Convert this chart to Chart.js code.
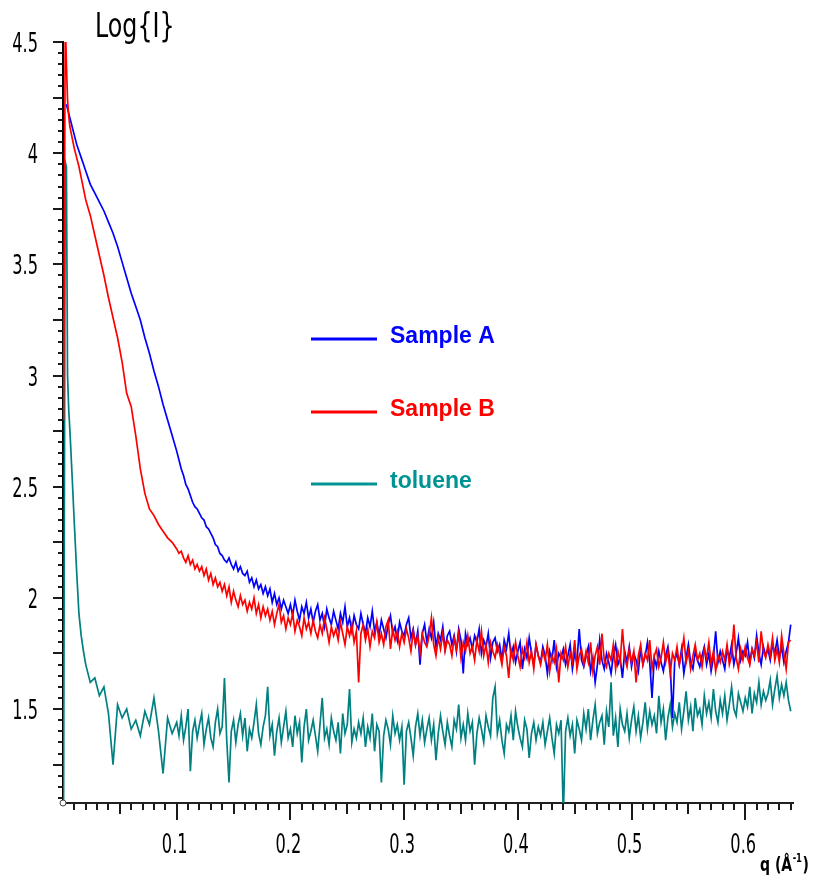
<!DOCTYPE html>
<html>
<head>
<meta charset="utf-8">
<title>Log{I} vs q</title>
<script src="https://cdn.jsdelivr.net/npm/chart.js@4.4.1/dist/chart.umd.min.js"></script>
<style>
  html, body { margin: 0; padding: 0; background: #fff; }
  #chart { display: block; }
</style>
</head>
<body>
<canvas id="chart" width="816" height="879"></canvas>
<script>
// values (Log{I} against q)

const qValues = [
  0.0005, 0.002, 0.003, 0.004, 0.005, 0.006, 0.008, 0.010, 0.012, 0.014, 0.016, 0.018, 0.020,
  0.024, 0.028, 0.032, 0.036, 0.040, 0.044, 0.048, 0.052, 0.056, 0.060,
  0.064, 0.068, 0.072, 0.076, 0.080, 0.084, 0.088, 0.092, 0.096,
  0.100, 0.102, 0.104, 0.106, 0.108, 0.110, 0.112, 0.114, 0.116, 0.118,
  0.120, 0.122, 0.124, 0.126, 0.128, 0.130, 0.132, 0.134, 0.136, 0.138,
  0.140, 0.142, 0.144, 0.146, 0.148, 0.150, 0.152, 0.154, 0.156, 0.158,
  0.160, 0.162, 0.164, 0.166, 0.168, 0.170, 0.172, 0.174, 0.176, 0.178,
  0.180, 0.182, 0.184, 0.186, 0.188, 0.190, 0.192, 0.194, 0.196, 0.198,
  0.200, 0.202, 0.204, 0.206, 0.208, 0.210, 0.212, 0.214, 0.216, 0.218,
  0.220, 0.222, 0.224, 0.226, 0.228, 0.230, 0.232, 0.234, 0.236, 0.238,
  0.240, 0.242, 0.244, 0.246, 0.248, 0.250, 0.252, 0.254, 0.256, 0.258,
  0.260, 0.262, 0.264, 0.266, 0.268, 0.270, 0.272, 0.274, 0.276, 0.278,
  0.280, 0.282, 0.284, 0.286, 0.288, 0.290, 0.292, 0.294, 0.296, 0.298,
  0.300, 0.302, 0.304, 0.306, 0.308, 0.310, 0.312, 0.314, 0.316, 0.318,
  0.320, 0.322, 0.324, 0.326, 0.328, 0.330, 0.332, 0.334, 0.336, 0.338,
  0.340, 0.342, 0.344, 0.346, 0.348, 0.350, 0.352, 0.354, 0.356, 0.358,
  0.360, 0.362, 0.364, 0.366, 0.368, 0.370, 0.372, 0.374, 0.376, 0.378,
  0.380, 0.382, 0.384, 0.386, 0.388, 0.390, 0.392, 0.394, 0.396, 0.398,
  0.400, 0.402, 0.404, 0.406, 0.408, 0.410, 0.412, 0.414, 0.416, 0.418,
  0.420, 0.422, 0.424, 0.426, 0.428, 0.430, 0.432, 0.434, 0.436, 0.438,
  0.440, 0.442, 0.444, 0.446, 0.448, 0.450, 0.452, 0.454, 0.456, 0.458,
  0.460, 0.462, 0.464, 0.466, 0.468, 0.470, 0.472, 0.474, 0.476, 0.478,
  0.480, 0.482, 0.484, 0.486, 0.488, 0.490, 0.492, 0.494, 0.496, 0.498,
  0.500, 0.502, 0.504, 0.506, 0.508, 0.510, 0.512, 0.514, 0.516, 0.518,
  0.520, 0.522, 0.524, 0.526, 0.528, 0.530, 0.532, 0.534, 0.536, 0.538,
  0.540, 0.542, 0.544, 0.546, 0.548, 0.550, 0.552, 0.554, 0.556, 0.558,
  0.560, 0.562, 0.564, 0.566, 0.568, 0.570, 0.572, 0.574, 0.576, 0.578,
  0.580, 0.582, 0.584, 0.586, 0.588, 0.590, 0.592, 0.594, 0.596, 0.598,
  0.600, 0.602, 0.604, 0.606, 0.608, 0.610, 0.612, 0.614, 0.616, 0.618,
  0.620, 0.622, 0.624, 0.626, 0.628, 0.630, 0.632, 0.634, 0.636, 0.638,
  0.640
];

const sampleA = [
  null, null, 4.22, 4.20, 4.18, 4.16, 4.12, 4.08, 4.04, 4.01, 3.98, 3.95, 3.92,
  3.86, 3.82, 3.78, 3.74, 3.69, 3.64, 3.58, 3.51, 3.44, 3.37,
  3.31, 3.25, 3.17, 3.10, 3.02, 2.95, 2.87, 2.80, 2.73,
  2.66, 2.62, 2.58, 2.55, 2.51, 2.49, 2.46, 2.43, 2.41, 2.40,
  2.38, 2.36, 2.35, 2.32, 2.31, 2.29, 2.27, 2.24, 2.23, 2.20,
  2.19, 2.17, 2.16, 2.18, 2.15, 2.13, 2.16, 2.12, 2.14, 2.11,
  2.10, 2.12, 2.07, 2.09, 2.05, 2.08, 2.04, 2.06, 2.02, 2.05,
  2.01, 2.04, 1.98, 2.02, 1.97, 2.00, 1.95, 1.99, 1.96, 1.93,
  1.97, 1.92, 1.99, 1.94, 1.90, 1.96, 1.93, 1.98, 1.91, 1.95,
  1.89, 1.94, 1.97, 1.90, 1.93, 1.87, 1.95, 1.91, 1.88, 1.94,
  1.90, 1.86, 1.93, 1.89, 1.96, 1.87, 1.91, 1.85, 1.92, 1.88,
  1.86, 1.93, 1.88, 1.84, 1.91, 1.87, 1.94, 1.85, 1.89, 1.83,
  1.90, 1.86, 1.82, 1.88, 1.92, 1.84, 1.87, 1.81, 1.89, 1.85,
  1.83, 1.88, 1.91, 1.82, 1.86, 1.79, 1.85, 1.70, 1.84, 1.88,
  1.80, 1.86, 1.82, 1.89, 1.78, 1.84, 1.81, 1.87, 1.77, 1.83,
  1.85, 1.79, 1.83, 1.76, 1.86, 1.81, 1.66, 1.84, 1.79, 1.82,
  1.77, 1.83, 1.80, 1.86, 1.75, 1.81, 1.78, 1.84, 1.73, 1.80,
  1.82, 1.76, 1.79, 1.72, 1.81, 1.77, 1.84, 1.74, 1.78, 1.71,
  1.76, 1.80, 1.68, 1.77, 1.73, 1.82, 1.75, 1.70, 1.79, 1.74,
  1.71, 1.78, 1.74, 1.66, 1.76, 1.72, 1.81, 1.69, 1.75, 1.73,
  1.77, 1.70, 1.74, 1.79, 1.68, 1.75, 1.71, 1.86, 1.72, 1.69,
  1.74, 1.78, 1.67, 1.73, 1.62, 1.70, 1.81, 1.72, 1.68, 1.75,
  1.71, 1.66, 1.74, 1.79, 1.70, 1.73, 1.64, 1.76, 1.71, 1.78,
  1.69, 1.75, 1.72, 1.67, 1.77, 1.70, 1.74, 1.80, 1.71, 1.55,
  1.73, 1.69, 1.76, 1.71, 1.67, 1.74, 1.78, 1.70, 1.46, 1.72,
  1.75, 1.70, 1.77, 1.66, 1.73, 1.79, 1.71, 1.68, 1.76, 1.72,
  1.69, 1.74, 1.78, 1.70, 1.75, 1.67, 1.73, 1.85, 1.71, 1.76,
  1.72, 1.68, 1.77, 1.73, 1.79, 1.70, 1.75, 1.82, 1.72, 1.76,
  1.74, 1.80, 1.71, 1.77, 1.73, 1.83, 1.75, 1.70, 1.78, 1.74,
  1.77, 1.72, 1.79, 1.75, 1.81, 1.73, 1.78, 1.71, 1.76, 1.80,
  1.88
];

const sampleB = [
  2.80, 4.60, 4.40, 4.24, 4.17, 4.12, 4.07, 4.02, 3.98, 3.94, 3.89, 3.84, 3.79,
  3.72, 3.63, 3.54, 3.45, 3.35, 3.26, 3.17, 3.06, 2.92, 2.86,
  2.73, 2.58, 2.47, 2.40, 2.37, 2.33, 2.30, 2.27, 2.25,
  2.22, 2.20, 2.21, 2.18, 2.16, 2.19, 2.15, 2.17, 2.13, 2.15,
  2.12, 2.14, 2.10, 2.13, 2.08, 2.11, 2.06, 2.09, 2.05, 2.07,
  2.03, 2.06, 2.01, 2.05, 1.98, 2.03, 1.99, 1.96, 2.01, 1.97,
  1.99, 1.94, 1.98, 1.95, 2.00, 1.93, 1.97, 1.91, 1.96, 1.92,
  1.95, 1.90, 1.94, 1.88, 1.93, 1.97, 1.89, 1.92, 1.86, 1.91,
  1.88, 1.93, 1.85, 1.90, 1.87, 1.83, 1.91, 1.86, 1.89, 1.84,
  1.90, 1.85, 1.82, 1.88, 1.84, 1.91, 1.86, 1.80, 1.87, 1.83,
  1.86, 1.81, 1.89, 1.84, 1.79, 1.87, 1.83, 1.88, 1.80, 1.85,
  1.62, 1.84, 1.88, 1.81, 1.86, 1.78, 1.85, 1.82, 1.89, 1.80,
  1.84, 1.79, 1.87, 1.90, 1.77, 1.86, 1.81, 1.85, 1.78, 1.84,
  1.80, 1.86, 1.82, 1.76, 1.85, 1.79, 1.83, 1.75, 1.84, 1.80,
  1.78, 1.83, 1.91, 1.79, 1.74, 1.82, 1.77, 1.84, 1.76, 1.81,
  1.79, 1.74, 1.82, 1.77, 1.84, 1.73, 1.80, 1.76, 1.83, 1.75,
  1.78, 1.72, 1.81, 1.76, 1.85, 1.74, 1.79, 1.71, 1.80, 1.76,
  1.73, 1.79, 1.75, 1.70, 1.78, 1.74, 1.64, 1.77, 1.72, 1.80,
  1.74, 1.69, 1.77, 1.73, 1.80, 1.71, 1.76, 1.68, 1.79, 1.74,
  1.70, 1.76, 1.72, 1.79, 1.67, 1.74, 1.71, 1.77, 1.62, 1.75,
  1.72, 1.78, 1.69, 1.75, 1.71, 1.81, 1.68, 1.74, 1.77, 1.70,
  1.76, 1.71, 1.80, 1.67, 1.74, 1.78, 1.70, 1.84, 1.72, 1.69,
  1.75, 1.72, 1.79, 1.68, 1.76, 1.71, 1.86, 1.73, 1.69, 1.77,
  1.71, 1.76, 1.62, 1.74, 1.79, 1.70, 1.75, 1.72, 1.81, 1.68,
  1.74, 1.77, 1.69, 1.73, 1.80, 1.71, 1.76, 1.66, 1.75, 1.72,
  1.78, 1.70, 1.75, 1.82, 1.71, 1.76, 1.68, 1.74, 1.79, 1.72,
  1.75, 1.69, 1.77, 1.73, 1.80, 1.70, 1.76, 1.67, 1.74, 1.71,
  1.76, 1.72, 1.79, 1.70, 1.74, 1.88, 1.73, 1.68, 1.77, 1.72,
  1.78, 1.73, 1.70, 1.77, 1.74, 1.80, 1.71, 1.85, 1.76, 1.73,
  1.79, 1.74, 1.82, 1.72, 1.77, 1.71, 1.83, 1.75, 1.68, 1.80,
  1.81
];

const toluene = [
  1.05, 3.96, 3.94, 3.00, 2.85, 2.76, 2.55, 2.33, 2.12, 1.93, 1.83, 1.76, 1.70,
  1.62, 1.64, 1.56, 1.60, 1.48, 1.25, 1.52, 1.46, 1.50, 1.41,
  1.45, 1.38, 1.49, 1.43, 1.55, 1.40, 1.21, 1.46, 1.39,
  1.44, 1.38, 1.47, 1.36, 1.42, 1.50, 1.22, 1.40, 1.45, 1.37,
  1.43, 1.48, 1.34, 1.41, 1.46, 1.37, 1.33, 1.44, 1.50, 1.39,
  1.42, 1.64, 1.36, 1.17, 1.40, 1.45, 1.35, 1.43, 1.48, 1.38,
  1.46, 1.31, 1.41, 1.37, 1.44, 1.52, 1.39, 1.34, 1.42, 1.47,
  1.60, 1.38, 1.43, 1.29, 1.40, 1.46, 1.35, 1.42, 1.49, 1.37,
  1.41, 1.33, 1.47, 1.39, 1.44, 1.26, 1.42, 1.50, 1.36, 1.40,
  1.45, 1.38, 1.31, 1.43, 1.55, 1.37, 1.41, 1.34, 1.46, 1.40,
  1.36, 1.44, 1.30, 1.48, 1.39, 1.43, 1.59, 1.35, 1.41, 1.37,
  1.44, 1.39, 1.46, 1.33, 1.42, 1.37, 1.48, 1.31, 1.43, 1.40,
  1.17, 1.38, 1.45, 1.41, 1.34, 1.47, 1.39, 1.43, 1.36, 1.42,
  1.16, 1.40, 1.44, 1.37, 1.29, 1.42, 1.48, 1.38, 1.45, 1.35,
  1.41, 1.46, 1.36, 1.43, 1.27, 1.39, 1.47, 1.40, 1.34, 1.44,
  1.38, 1.33, 1.45, 1.41, 1.52, 1.37, 1.43, 1.36, 1.48, 1.40,
  1.44, 1.25, 1.39, 1.46, 1.41, 1.35, 1.47, 1.42, 1.38, 1.55,
  1.60, 1.39, 1.45, 1.36, 1.30, 1.43, 1.40, 1.47, 1.36, 1.49,
  1.42, 1.37, 1.33, 1.45, 1.41, 1.28, 1.39, 1.44, 1.36, 1.42,
  1.38, 1.44, 1.34, 1.40, 1.46, 1.37, 1.30, 1.43, 1.39, 1.45,
  1.02, 1.40, 1.46, 1.38, 1.43, 1.30, 1.45, 1.41, 1.36, 1.48,
  1.41, 1.50, 1.36, 1.45, 1.52, 1.39, 1.44, 1.47, 1.34, 1.49,
  1.42, 1.62, 1.38, 1.46, 1.33, 1.50, 1.43, 1.40, 1.48, 1.37,
  1.45, 1.51, 1.40, 1.47, 1.37, 1.44, 1.53, 1.41, 1.49, 1.43,
  1.47, 1.39, 1.56, 1.44, 1.50, 1.36, 1.46, 1.52, 1.42, 1.48,
  1.44, 1.53, 1.41, 1.49, 1.58, 1.45, 1.51, 1.40, 1.55, 1.47,
  1.50, 1.43, 1.56, 1.48, 1.53, 1.46, 1.59, 1.49, 1.44, 1.54,
  1.48, 1.56, 1.45, 1.52, 1.60, 1.50, 1.47, 1.57, 1.53, 1.49,
  1.55, 1.51, 1.60, 1.48, 1.57, 1.53, 1.62, 1.52, 1.58, 1.54,
  1.57, 1.63, 1.52, 1.59, 1.65, 1.55, 1.61, 1.56, 1.62, 1.54,
  1.49
];

const seriesNames = ['Sample A', 'Sample B', 'toluene'];
const lineColors = ['#0000ff', '#ff0000', '#008080'];
const legendColors = ['#0000ff', '#ff0000', '#009393'];

const xTicks = [0.1, 0.2, 0.3, 0.4, 0.5, 0.6];
const yTicks = [1.5, 2, 2.5, 3, 3.5, 4, 4.5];

const narrowFont = '"DejaVu Sans", sans-serif';

function toPoints(values) {
  return qValues.map((q, i) => ({ x: q, y: values[i] }));
}

// text squeezed horizontally, like the narrow font of the original plot
function narrowText(ctx, text, x, y, align, font, squeeze) {
  ctx.save();
  ctx.translate(x, y);
  ctx.scale(squeeze, 1);
  ctx.font = font;
  ctx.textAlign = align;
  ctx.textBaseline = 'alphabetic';
  ctx.fillText(text, 0, 0);
  ctx.restore();
}

// tick marks, tick labels, title, axis label and the inline legend
const decorations = {
  id: 'decorations',
  afterDraw(chart) {
    const { ctx, chartArea: area, scales: { x, y } } = chart;
    ctx.save();
    ctx.strokeStyle = '#1a1a1a';
    ctx.lineWidth = 2;
    ctx.beginPath();
    // y ticks every 0.05, longer every 0.25
    for (let k = 22; k <= 90; k++) {
      const py = Math.round(y.getPixelForValue(k / 20));
      const len = k % 5 === 0 ? 10 : 5;
      ctx.moveTo(area.left - len, py);
      ctx.lineTo(area.left, py);
    }
    // x ticks every 0.01, medium at 0.05, long at 0.1
    for (let k = 1; k <= 64; k++) {
      const px = Math.round(x.getPixelForValue(k / 100));
      const len = k % 10 === 0 ? 17 : (k % 5 === 0 ? 11 : 7);
      ctx.moveTo(px, area.bottom);
      ctx.lineTo(px, area.bottom + len);
    }
    ctx.stroke();

    // small circle at the origin
    ctx.beginPath();
    ctx.lineWidth = 1;
    ctx.strokeStyle = '#444';
    ctx.fillStyle = '#fff';
    ctx.arc(area.left, area.bottom, 3, 0, Math.PI * 2);
    ctx.fill();
    ctx.stroke();

    // tick labels
    ctx.fillStyle = '#000';
    const labelFont = '27px ' + narrowFont;
    y.ticks.forEach(t => {
      narrowText(ctx, String(t.value), area.left - 25, y.getPixelForValue(t.value) + 10, 'right', labelFont, 0.6);
    });
    x.ticks.forEach(t => {
      narrowText(ctx, String(t.value), x.getPixelForValue(t.value) - 2, area.bottom + 50, 'center', labelFont, 0.6);
    });

    // title
    narrowText(ctx, 'Log{I}', area.left + 32, 37, 'left', '33px ' + narrowFont, 0.72);

    // axis label q (Å^-1)
    const boldFont = 'bold 20px ' + narrowFont;
    ctx.font = boldFont;
    const w1 = ctx.measureText('q (Å').width * 0.7;
    ctx.font = 'bold 12px ' + narrowFont;
    const w2 = ctx.measureText('-1').width * 0.7;
    narrowText(ctx, 'q (Å', 760, 871, 'left', boldFont, 0.7);
    narrowText(ctx, '-1', 760 + w1 + 0.5, 862, 'left', 'bold 12px ' + narrowFont, 0.7);
    narrowText(ctx, ')', 760 + w1 + w2 + 1, 871, 'left', boldFont, 0.7);

    // legend
    const legendTop = [339, 412, 484];
    ctx.font = 'bold 23px "Liberation Sans", Arial, sans-serif';
    ctx.textAlign = 'left';
    ctx.textBaseline = 'alphabetic';
    seriesNames.forEach((name, i) => {
      ctx.strokeStyle = legendColors[i];
      ctx.lineWidth = 3;
      ctx.beginPath();
      ctx.moveTo(311, legendTop[i]);
      ctx.lineTo(377, legendTop[i]);
      ctx.stroke();
      ctx.fillStyle = legendColors[i];
      ctx.fillText(name, 390, legendTop[i] + 4);
    });
    ctx.restore();
  }
};

const ctx = document.getElementById('chart').getContext('2d');

const myChart = new Chart(ctx, {
  type: 'line',
  data: {
    datasets: [
      { label: seriesNames[0], data: toPoints(sampleA), borderColor: lineColors[0], order: 2 },
      { label: seriesNames[1], data: toPoints(sampleB), borderColor: lineColors[1], order: 1 },
      { label: seriesNames[2], data: toPoints(toluene), borderColor: lineColors[2], order: 3 }
    ]
  },
  options: {
    responsive: false,
    animation: false,
    layout: { padding: { top: 42, right: 23, left: 0, bottom: 0 } },
    elements: {
      line: { borderWidth: 1.7, tension: 0, fill: false },
      point: { radius: 0 }
    },
    plugins: {
      legend: { display: false },
      tooltip: { enabled: false }
    },
    scales: {
      x: {
        type: 'linear',
        min: 0,
        max: 0.642,
        afterFit: s => { s.height = 76; },
        afterBuildTicks: s => { s.ticks = xTicks.map(v => ({ value: v })); },
        grid: { display: false, drawTicks: false },
        border: { display: true, color: '#222', width: 2 },
        ticks: { display: false }
      },
      y: {
        type: 'linear',
        min: 1.0775,
        max: 4.5,
        afterFit: s => { s.width = 63; },
        afterBuildTicks: s => { s.ticks = yTicks.map(v => ({ value: v })); },
        grid: { display: false, drawTicks: false },
        border: { display: true, color: '#000', width: 2 },
        ticks: { display: false }
      }
    }
  },
  plugins: [decorations]
});
</script>
</body>
</html>
